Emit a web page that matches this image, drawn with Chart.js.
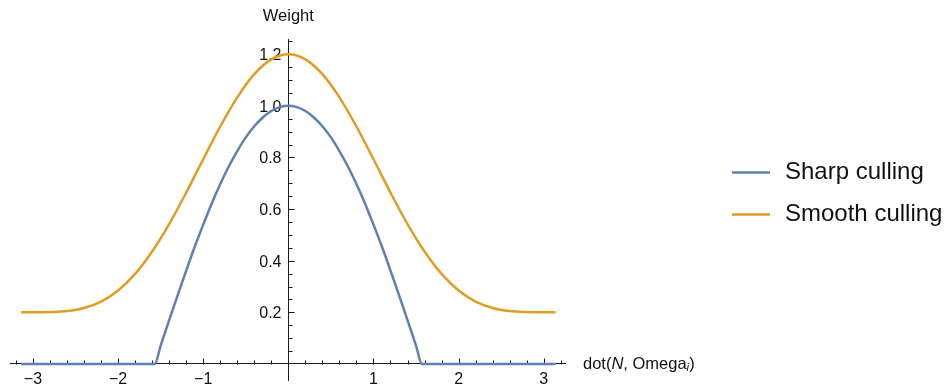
<!DOCTYPE html>
<html>
<head>
<meta charset="utf-8">
<script src="https://cdn.jsdelivr.net/npm/chart.js@4.4.1/dist/chart.umd.min.js"></script>
<style>
  html, body { margin: 0; padding: 0; background: #fff; }
</style>
</head>
<body>
<canvas id="myChart" width="950" height="387"></canvas>
<script>
// values
var sharpX = [-3.14, -1.57, -1.5, -1.4, -1.3, -1.2, -1.1, -1.0, -0.9, -0.8, -0.7, -0.6, -0.5, -0.4, -0.3, -0.2, -0.1, 0,
              0.1, 0.2, 0.3, 0.4, 0.5, 0.6, 0.7, 0.8, 0.9, 1.0, 1.1, 1.2, 1.3, 1.4, 1.5, 1.57, 3.14];
var sharpY = [0, 0, 0.071, 0.170, 0.267, 0.362, 0.454, 0.540, 0.622, 0.697, 0.765, 0.825, 0.878, 0.921, 0.955, 0.980, 0.995, 1.0,
              0.995, 0.980, 0.955, 0.921, 0.878, 0.825, 0.765, 0.697, 0.622, 0.540, 0.454, 0.362, 0.267, 0.170, 0.071, 0, 0];

var smoothX = [-3.14, -3.0, -2.8, -2.6, -2.4, -2.2, -2.0, -1.8, -1.6, -1.4, -1.2, -1.0, -0.8, -0.6, -0.4, -0.2, 0,
               0.2, 0.4, 0.6, 0.8, 1.0, 1.2, 1.4, 1.6, 1.8, 2.0, 2.2, 2.4, 2.6, 2.8, 3.0, 3.14];
var smoothY = [0.2, 0.2, 0.201, 0.205, 0.217, 0.242, 0.285, 0.349, 0.436, 0.542, 0.664, 0.793, 0.92, 1.033, 1.123, 1.18, 1.2,
               1.18, 1.123, 1.033, 0.92, 0.793, 0.664, 0.542, 0.436, 0.349, 0.285, 0.242, 0.217, 0.205, 0.201, 0.2, 0.2];

var xTicks = [-3, -2, -1, 1, 2, 3];
var yTicks = [0.2, 0.4, 0.6, 0.8, 1.0, 1.2];
var seriesNames = ["Sharp culling", "Smooth culling"];
var seriesColors = ["#5e81b5", "#e19c24"];

var axisColor = "#1a1a1a";
var font = '"Liberation Sans", Arial, sans-serif';

function toPoints(xs, ys) {
  return xs.map(function(x, i) { return {x: x, y: ys[i]}; });
}

// Mathematica style ticks, tick labels, axis titles and legend
var decoPlugin = {
  id: 'deco',
  beforeDatasetsDraw: function(chart) {
    var ctx = chart.ctx, xs = chart.scales.x, ys = chart.scales.y;
    var x0 = Math.round(xs.getPixelForValue(0)) + 0.5;
    var y0 = Math.round(ys.getPixelForValue(0)) + 0.5;
    ctx.save();
    ctx.strokeStyle = axisColor;
    ctx.lineWidth = 1;
    ctx.beginPath();
    for (var i = -16; i <= 16; i++) {
      var px = Math.round(xs.getPixelForValue(i / 5)) + 0.5;
      var len = (i % 5 === 0) ? 6 : 4;
      ctx.moveTo(px, y0);
      ctx.lineTo(px, y0 - len);
    }
    for (var j = 1; j <= 25; j++) {
      var py = Math.round(ys.getPixelForValue(j / 20)) + 0.5;
      var len2 = (j % 4 === 0) ? 6 : 4;
      ctx.moveTo(x0, py);
      ctx.lineTo(x0 + len2, py);
    }
    ctx.stroke();

    ctx.fillStyle = "#111";
    ctx.font = '16px ' + font;
    ctx.textBaseline = 'alphabetic';
    ctx.textAlign = 'center';
    xTicks.forEach(function(v) {
      var s = v < 0 ? '\u2212' + (-v) : String(v);
      ctx.fillText(s, xs.getPixelForValue(v), y0 + 19);
    });
    ctx.textAlign = 'right';
    yTicks.forEach(function(v) {
      ctx.fillText(v.toFixed(1), x0 - 7, ys.getPixelForValue(v) + 6);
    });
    ctx.restore();
  },
  afterDraw: function(chart) {
    var ctx = chart.ctx, xs = chart.scales.x, ys = chart.scales.y;
    var x0 = xs.getPixelForValue(0), y0 = ys.getPixelForValue(0);
    ctx.save();
    ctx.fillStyle = "#111";
    ctx.textBaseline = 'middle';

    // y axis title
    ctx.font = '16.5px ' + font;
    ctx.textAlign = 'center';
    ctx.fillText('Weight', x0, 16);

    // x axis title: dot(N, Omega_i)
    ctx.textAlign = 'left';
    var tx = chart.chartArea.right + 18;
    var parts = [
      ['dot(', '16.5px ' + font, 0],
      ['N', 'italic 16.5px ' + font, 0],
      [', Omega', '16.5px ' + font, 0],
      ['i', 'italic 11.5px ' + font, 4],
      [')', '16.5px ' + font, 0]
    ];
    parts.forEach(function(p) {
      ctx.font = p[1];
      ctx.fillText(p[0], tx, y0 + p[2]);
      tx += ctx.measureText(p[0]).width;
    });

    // legend
    var lx = chart.width - 218;
    chart.data.datasets.forEach(function(ds, k) {
      var ly = 172.5 + k * 42;
      ctx.strokeStyle = ds.borderColor;
      ctx.lineWidth = 2.5;
      ctx.beginPath();
      ctx.moveTo(lx, ly);
      ctx.lineTo(lx + 38, ly);
      ctx.stroke();
      ctx.font = '24px ' + font;
      ctx.fillStyle = "#111";
      ctx.fillText(ds.label, lx + 53, ly);
    });
    ctx.restore();
  }
};

var ctx = document.getElementById('myChart').getContext('2d');
var myChart = new Chart(ctx, {
  type: 'line',
  data: {
    datasets: [
      { label: seriesNames[0], data: toPoints(sharpX, sharpY), borderColor: seriesColors[0], backgroundColor: seriesColors[0] },
      { label: seriesNames[1], data: toPoints(smoothX, smoothY), borderColor: seriesColors[1], backgroundColor: seriesColors[1] }
    ]
  },
  options: {
    responsive: false,
    animation: false,
    layout: { padding: { left: 10, right: 385, top: 39, bottom: 7 } },
    plugins: {
      legend: { display: false },
      tooltip: { enabled: false }
    },
    elements: {
      point: { radius: 0 },
      line: { borderWidth: 2.5, cubicInterpolationMode: 'monotone' }
    },
    scales: {
      x: {
        type: 'linear', min: -3.27, max: 3.25,
        position: { y: 0 },
        grid: { drawOnChartArea: false, drawTicks: false },
        border: { color: axisColor, width: 1 },
        ticks: { display: false }
      },
      y: {
        type: 'linear', min: -0.062, max: 1.259,
        position: { x: 0 },
        grid: { drawOnChartArea: false, drawTicks: false },
        border: { color: axisColor, width: 1 },
        ticks: { display: false }
      }
    }
  },
  plugins: [decoPlugin]
});
</script>
</body>
</html>
